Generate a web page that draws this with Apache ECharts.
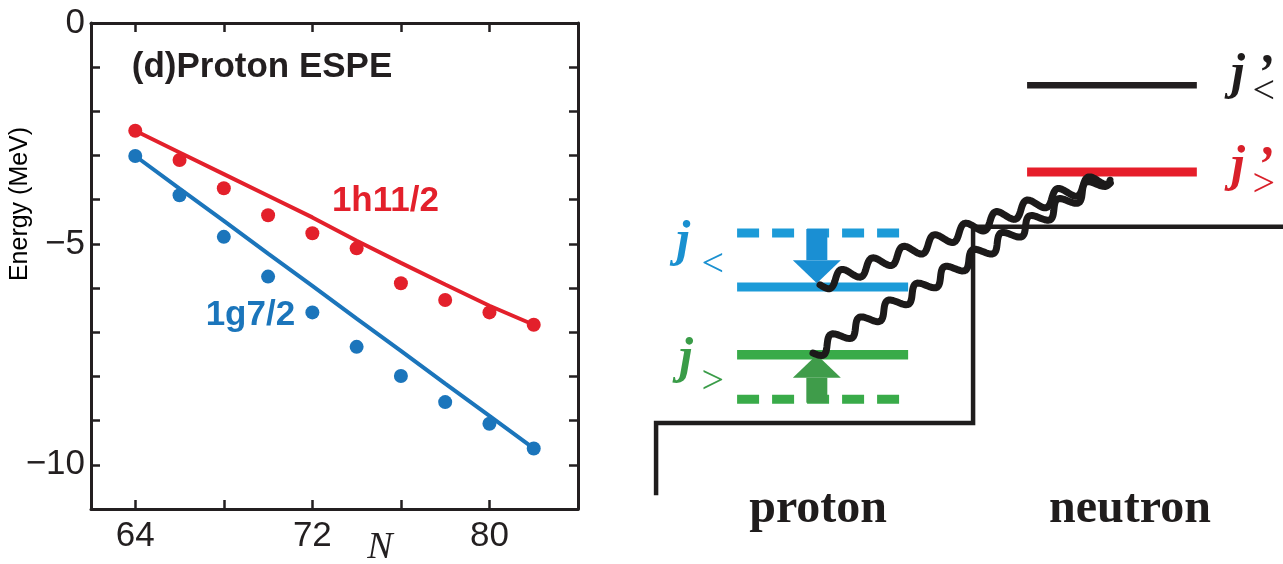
<!DOCTYPE html>
<html>
<head>
<meta charset="utf-8">
<script src="https://cdn.jsdelivr.net/npm/echarts@6/dist/echarts.min.js"></script>
<style>
  html, body { margin: 0; padding: 0; background: #fff; }
  #chart { width: 1283px; height: 564px; }
</style>
</head>
<body>
<div id="chart"></div>
<script>
// ---- left panel: proton ESPE against neutron number ----
const neutronNumbers = [64, 66, 68, 70, 72, 74, 76, 78, 80, 82];
const h11Points = [-2.44, -3.10, -3.74, -4.35, -4.76, -5.10, -5.89, -6.27, -6.55, -6.83];
const g7Points = [-3.01, -3.90, -4.84, -5.74, -6.55, -7.33, -7.99, -8.58, -9.07, -9.63];
const h11Line = [-2.44, -2.93, -3.42, -3.91, -4.40, -4.93, -5.43, -5.92, -6.40, -6.83];
const g7Line = [-3.01, -3.75, -4.48, -5.22, -5.95, -6.69, -7.42, -8.16, -8.89, -9.63];
const xTicks = [64, 68, 72, 76, 80];
const xTickLabels = [64, 72, 80];
const yTicks = [-10, -9, -8, -7, -6, -5, -4, -3, -2, -1];
const yTickLabels = [0, -5, -10];
const curveNames = ['1h11/2', '1g7/2'];
const curveNameAt = [[75.3, -4.03], [69.2, -6.61]];

// ---- right panel: schematic (x: arbitrary, y: energy in arbitrary units) ----
const wellPath = [[2.5, 12.2], [2.5, 25.0], [51.8, 25.0], [51.8, 59.8], [100, 59.8]];
const levelNames = ["j'<", "j'>", 'j< (before)', 'j< (after)', 'j> (after)', 'j> (before)'];
const levelEnergy = [84.9, 69.5, 58.7, 49.1, 37.1, 29.2];
const levelFrom = [60.2, 60.2, 15.1, 15.1, 15.1, 15.1];
const levelTo = [86.6, 86.6, 40.3, 41.7, 41.7, 40.3];
const shiftArrows = [[27.5, 59.4, 49.8], [27.5, 28.6, 37.1]]; // x, from, to
const tensorLinks = [[28.0, 49.5, 72.8, 68.6], [26.9, 37.4, 72.8, 68.6]];
const labelTexts = ['proton', 'neutron', 'j', '\u2019', '<', 'j', '\u2019', '>', 'j', '<', 'j', '>'];
const labelKinds = ['name', 'name', 'j', 'j', 'sub', 'j', 'j', 'sub', 'j', 'sub', 'j', 'sub'];
const labelAt = [
  [27.7, 9.7], [76.2, 9.7],
  [93.0, 86.7], [97.2, 86.7], [97.0, 83.6],
  [93.0, 70.4], [97.2, 70.4], [97.0, 67.1],
  [6.7, 57.1], [11.3, 52.9],
  [7.15, 36.35], [11.3, 32.2]
];
const labelColors = ['#1f1c1c', '#1f1c1c', '#1f1c1c', '#1f1c1c', '#1f1c1c', '#d9202a', '#d9202a', '#d9202a',
  '#1a90d0', '#1a90d0', '#3a9c48', '#3a9c48'];

const ink = '#231f20';
const red = '#e3202b';
const blue = '#1b75bb';
const sans = "'Liberation Sans', Arial, Helvetica, sans-serif";
const serif = "'Liberation Serif', 'Times New Roman', serif";
const levelColors = ['#231f20', '#e61e2a', '#1c9bd8', '#1c9bd8', '#39ab49', '#39ab49'];
const levelWidths = [6.5, 9, 9, 9, 9.5, 9];
const levelDashed = [false, false, true, false, false, true];
const arrowColors = ['#1a8fd3', '#3f9c4a'];
const WAVE_LEN = 33;
const WAVE_AMP = 7;

const chart = echarts.init(document.getElementById('chart'));

const minusFmt = v => (v < 0 ? '\u2212' + Math.abs(v) : String(v));

function frameX(position, labels) {
  return {
    gridIndex: 0, type: 'value', min: 62, max: 84, position,
    axisLine: { show: true, onZero: false, lineStyle: { color: ink, width: 3 } },
    axisTick: { show: true, inside: true, length: 9, customValues: xTicks, lineStyle: { color: ink, width: 2.5 } },
    axisLabel: labels
      ? { show: true, customValues: xTickLabels, fontSize: 35, color: ink, fontFamily: sans, margin: 10 }
      : { show: false },
    splitLine: { show: false }
  };
}

function frameY(position, labels) {
  return {
    gridIndex: 0, type: 'value', min: -11, max: 0, position,
    axisLine: { show: true, onZero: false, lineStyle: { color: ink, width: 3 } },
    axisTick: { show: true, inside: true, length: 9, customValues: yTicks, lineStyle: { color: ink, width: 2.5 } },
    axisLabel: labels
      ? { show: true, customValues: yTickLabels, fontSize: 35, color: ink, fontFamily: sans, margin: 6, formatter: minusFmt }
      : { show: false },
    splitLine: { show: false }
  };
}

function renderWave(params, api) {
  const a = api.coord([api.value(0), api.value(1)]);
  const b = api.coord([api.value(2), api.value(3)]);
  const dx = b[0] - a[0];
  const dy = b[1] - a[1];
  const len = Math.hypot(dx, dy);
  const ux = dx / len;
  const uy = dy / len;
  const steps = Math.ceil(len / 1.5);
  const pts = [];
  for (let i = 0; i <= steps; i++) {
    const s = (len * i) / steps;
    const w = WAVE_AMP * Math.sin((2 * Math.PI * s) / WAVE_LEN);
    pts.push([a[0] + ux * s - uy * w, a[1] + uy * s + ux * w]);
  }
  return {
    type: 'polyline',
    shape: { points: pts },
    style: { stroke: '#1c1a1a', lineWidth: 7, fill: 'none', lineCap: 'round', lineJoin: 'round' }
  };
}

function arrowRenderer(color) {
  return function (params, api) {
    const p0 = api.coord([api.value(0), api.value(1)]);
    const p1 = api.coord([api.value(0), api.value(2)]);
    const dir = Math.sign(p1[1] - p0[1]);
    const headH = 23, headW = 48, shaftW = 21;
    const hb = p1[1] - dir * headH;
    return {
      type: 'group',
      children: [
        { type: 'rect', shape: { x: p0[0] - shaftW / 2, y: Math.min(p0[1], hb), width: shaftW, height: Math.abs(hb - p0[1]) }, style: { fill: color } },
        { type: 'polygon', shape: { points: [[p1[0] - headW / 2, hb], [p1[0] + headW / 2, hb], [p1[0], p1[1]]] }, style: { fill: color } }
      ]
    };
  };
}

const levelSeries = levelNames.map((name, i) => ({
  name,
  type: 'line',
  xAxisIndex: 2, yAxisIndex: 2,
  data: [[levelFrom[i], levelEnergy[i]], [levelTo[i], levelEnergy[i]]],
  symbol: 'none',
  silent: true,
  z: 3,
  lineStyle: { color: levelColors[i], width: levelWidths[i], type: levelDashed[i] ? [22, 13] : 'solid', cap: 'butt' }
}));

const labelRich = {
  name: { fontFamily: serif, fontWeight: 'bold', fontSize: 48 },
  j: { fontFamily: serif, fontWeight: 'bold', fontStyle: 'italic', fontSize: 50 },
  sub: { fontFamily: serif, fontSize: 40 }
};

chart.setOption({
  animation: false,
  backgroundColor: '#fff',
  grid: [
    { left: 91, top: 23, width: 487, height: 486 },
    { left: 640, top: 0, width: 643, height: 564 }
  ],
  xAxis: [
    frameX('bottom', true),
    frameX('top', false),
    { gridIndex: 1, type: 'value', min: 0, max: 100, show: false }
  ],
  yAxis: [
    frameY('left', true),
    frameY('right', false),
    { gridIndex: 1, type: 'value', min: 0, max: 100, show: false }
  ],
  graphic: [
    { type: 'text', x: 262, y: 67, style: { text: '(d)Proton ESPE', font: 'bold 35px ' + sans, fill: ink, textAlign: 'center', textVerticalAlign: 'middle' } },
    { type: 'text', x: 20, y: 204, rotation: Math.PI / 2, style: { text: 'Energy (MeV)', font: '25px ' + sans, fill: '#000', textAlign: 'center', textVerticalAlign: 'middle' } },
    { type: 'text', x: 380, y: 548, style: { text: 'N', font: 'italic 38px ' + serif, fill: ink, textAlign: 'center', textVerticalAlign: 'middle' } }
  ],
  series: [
    {
      name: '1h11/2 fit', type: 'line', xAxisIndex: 0, yAxisIndex: 0,
      data: neutronNumbers.map((n, i) => [n, h11Line[i]]),
      symbol: 'none', lineStyle: { color: red, width: 4 }, z: 2
    },
    {
      name: '1g7/2 fit', type: 'line', xAxisIndex: 0, yAxisIndex: 0,
      data: neutronNumbers.map((n, i) => [n, g7Line[i]]),
      symbol: 'none', lineStyle: { color: blue, width: 4 }, z: 2
    },
    {
      name: '1h11/2', type: 'scatter', xAxisIndex: 0, yAxisIndex: 0,
      data: neutronNumbers.map((n, i) => [n, h11Points[i]]),
      symbolSize: 14, itemStyle: { color: red, opacity: 1 }, z: 3
    },
    {
      name: '1g7/2', type: 'scatter', xAxisIndex: 0, yAxisIndex: 0,
      data: neutronNumbers.map((n, i) => [n, g7Points[i]]),
      symbolSize: 14, itemStyle: { color: blue, opacity: 1 }, z: 3
    },
    {
      name: 'curve names', type: 'scatter', xAxisIndex: 0, yAxisIndex: 0, silent: true,
      symbolSize: 0, itemStyle: { opacity: 1 },
      data: curveNames.map((t, i) => ({
        value: curveNameAt[i],
        label: {
          show: true, position: [0, 0], align: 'center', verticalAlign: 'middle',
          formatter: t, color: i === 0 ? red : blue, opacity: 1,
          fontFamily: sans, fontWeight: 'bold', fontSize: 35
        }
      })),
      z: 4
    },
    {
      name: 'well', type: 'line', xAxisIndex: 2, yAxisIndex: 2, silent: true,
      data: wellPath, symbol: 'none', z: 2,
      lineStyle: { color: '#1f1d1d', width: 4.5, join: 'miter' }
    },
    ...levelSeries,
    {
      name: 'j< shift', type: 'custom', xAxisIndex: 2, yAxisIndex: 2, silent: true,
      renderItem: arrowRenderer(arrowColors[0]), data: [shiftArrows[0]], z: 4
    },
    {
      name: 'j> shift', type: 'custom', xAxisIndex: 2, yAxisIndex: 2, silent: true,
      renderItem: arrowRenderer(arrowColors[1]), data: [shiftArrows[1]], z: 4
    },
    {
      name: 'tensor links', type: 'custom', xAxisIndex: 2, yAxisIndex: 2, silent: true,
      renderItem: renderWave, data: tensorLinks, z: 5
    },
    {
      name: 'diagram labels', type: 'scatter', xAxisIndex: 2, yAxisIndex: 2, silent: true,
      symbolSize: 0, itemStyle: { opacity: 1 },
      data: labelTexts.map((t, i) => ({
        value: labelAt[i],
        label: {
          show: true, position: [0, 0], align: 'center', verticalAlign: 'middle',
          formatter: '{' + labelKinds[i] + '|' + t + '}',
          color: labelColors[i], opacity: 1,
          rich: labelRich
        }
      })),
      z: 6
    }
  ]
});

window.addEventListener('resize', () => chart.resize());
</script>
</body>
</html>
